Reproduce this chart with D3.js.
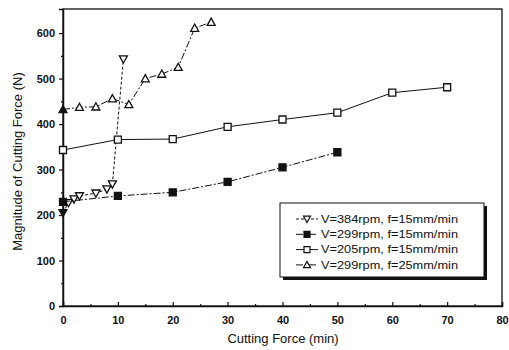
<!DOCTYPE html>
<html>
<head>
<meta charset="utf-8">
<script src="https://cdn.jsdelivr.net/npm/d3@7"></script>
<style>
  body { margin: 0; background: #fff; }
  svg { font-family: "Liberation Sans", Arial, sans-serif; }
</style>
</head>
<body>
<div class="graph"></div>
<script>
// values
const s384x = [0, 1, 2, 3, 6, 8, 9, 11];
const s384y = [205, 227, 235, 242, 248, 257, 268, 543];
const s299x = [0, 10, 20, 30, 40, 50];
const s299y = [229, 242, 250, 273, 305, 338];
const s205x = [0, 10, 20, 30, 40, 50, 60, 70];
const s205y = [343, 366, 367, 394, 410, 425, 469, 481];
const s299bx = [0, 3, 6, 9, 12, 15, 18, 21, 24, 27];
const s299by = [432, 437, 438, 456, 443, 500, 510, 525, 611, 624];

const xTicks = [0, 10, 20, 30, 40, 50, 60, 70, 80];
const yTicks = [0, 100, 200, 300, 400, 500, 600];
const legendLabels = ['V=384rpm, f=15mm/min', 'V=299rpm, f=15mm/min', 'V=205rpm, f=15mm/min', 'V=299rpm, f=25mm/min'];

const series = [
    { xs: s384x, ys: s384y, marker: 'down', fill: false, dash: '3,2', label: legendLabels[0] },
    { xs: s299x, ys: s299y, marker: 'square', fill: true, dash: '7,2,2,2', label: legendLabels[1] },
    { xs: s205x, ys: s205y, marker: 'square', fill: false, dash: null, label: legendLabels[2] },
    { xs: s299bx, ys: s299by, marker: 'up', fill: false, dash: '7,2,2,2', label: legendLabels[3] }
];

const width = 509, height = 350;
const margin = { top: 9, right: 7, bottom: 44, left: 63 };

const svg = d3.select('.graph').append('svg')
    .attr('width', width)
    .attr('height', height);

const x = d3.scaleLinear().domain([0, 80]).range([margin.left, width - margin.right]);
const y = d3.scaleLinear().domain([0, 653]).range([height - margin.bottom, margin.top]);

// frame
svg.append('rect')
    .attr('x', x(0)).attr('y', y(653))
    .attr('width', x(80) - x(0)).attr('height', y(0) - y(653))
    .attr('fill', 'none').attr('stroke', '#111').attr('stroke-width', 1.3);

// x axis
svg.append('g')
    .attr('transform', `translate(0,${y(0)})`)
    .call(d3.axisBottom(x).tickValues(xTicks).tickSize(-4).tickPadding(10).tickFormat(d3.format('d')));
svg.append('g')
    .attr('transform', `translate(0,${y(0)})`)
    .call(d3.axisBottom(x).tickValues(d3.range(5, 80, 10)).tickSize(-2).tickFormat(''))
    .select('.domain').remove();

// y axis
svg.append('g')
    .attr('transform', `translate(${x(0)},0)`)
    .call(d3.axisLeft(y).tickValues(yTicks).tickSize(4).tickPadding(4).tickFormat(d3.format('d')));
svg.append('g')
    .attr('transform', `translate(${x(0)},0)`)
    .call(d3.axisLeft(y).tickValues(d3.range(50, 650, 100)).tickSize(2).tickFormat(''))
    .select('.domain').remove();

svg.selectAll('.domain').attr('stroke', '#111').attr('stroke-width', 1.5);
svg.selectAll('.tick line').attr('stroke', '#111').attr('stroke-width', 1.2);
svg.selectAll('.tick text')
    .attr('font-size', 11)
    .attr('font-weight', 'bold')
    .attr('fill', '#111');

// axis titles
svg.append('text')
    .attr('x', 283).attr('y', 343)
    .attr('text-anchor', 'middle')
    .attr('font-size', 13)
    .attr('fill', '#111')
    .text('Cutting Force (min)');

svg.append('text')
    .attr('transform', `translate(22,${(y(0) + y(653)) / 2 + 4}) rotate(-90)`)
    .attr('text-anchor', 'middle')
    .attr('font-size', 13)
    .attr('fill', '#111')
    .text('Magnitude of Cutting Force (N)');

function markerPath(type, s) {
    if (type === 'up') return `M0,${-s}L${s},${s * 0.8}L${-s},${s * 0.8}Z`;
    if (type === 'down') return `M0,${s}L${s},${-s * 0.8}L${-s},${-s * 0.8}Z`;
    return `M${-s},${-s}H${s}V${s}H${-s}Z`;
}

const line = d3.line().x(d => x(d[0])).y(d => y(d[1]));

series.forEach(s => {
    const pts = s.xs.map((v, i) => [v, s.ys[i]]);
    svg.append('path')
        .datum(pts)
        .attr('d', line)
        .attr('fill', 'none')
        .attr('stroke', '#111')
        .attr('stroke-width', 1)
        .attr('stroke-dasharray', s.dash);

    svg.append('g').selectAll('path')
        .data(pts)
        .enter()
        .append('path')
        .attr('transform', d => `translate(${x(d[0])},${y(d[1])})`)
        .attr('d', markerPath(s.marker, s.marker === 'square' ? 3.5 : 4))
        // the first triangles at t=0 show up filled in the scan
        .attr('fill', (d, i) => (s.fill || (i === 0 && s.marker !== 'square')) ? '#111' : '#fff')
        .attr('stroke', '#111')
        .attr('stroke-width', 1.3);
});

// legend
const lg = { x: 280, y: 203, w: 204, h: 74 };
svg.append('rect')
    .attr('x', lg.x + 3).attr('y', lg.y + 3)
    .attr('width', lg.w).attr('height', lg.h)
    .attr('fill', '#111');
svg.append('rect')
    .attr('x', lg.x).attr('y', lg.y)
    .attr('width', lg.w).attr('height', lg.h)
    .attr('fill', '#fff').attr('stroke', '#111').attr('stroke-width', 1);

const rows = svg.append('g').selectAll('g')
    .data(series)
    .enter()
    .append('g')
    .attr('transform', (d, i) => `translate(0,${lg.y + 16 + i * 15.3})`);

rows.append('line')
    .attr('x1', 296).attr('x2', 318)
    .attr('stroke', '#111').attr('stroke-width', 1)
    .attr('stroke-dasharray', d => d.dash || null);

rows.append('path')
    .attr('transform', 'translate(307,0)')
    .attr('d', d => markerPath(d.marker, d.marker === 'square' ? 3 : 3.5))
    .attr('fill', d => d.fill ? '#111' : '#fff')
    .attr('stroke', '#111').attr('stroke-width', 1.2);

rows.append('text')
    .attr('x', 321).attr('dy', '0.35em')
    .attr('font-size', 11)
    .attr('fill', '#111')
    .attr('textLength', 137)
    .attr('lengthAdjust', 'spacingAndGlyphs')
    .text(d => d.label);
</script>
</body>
</html>
